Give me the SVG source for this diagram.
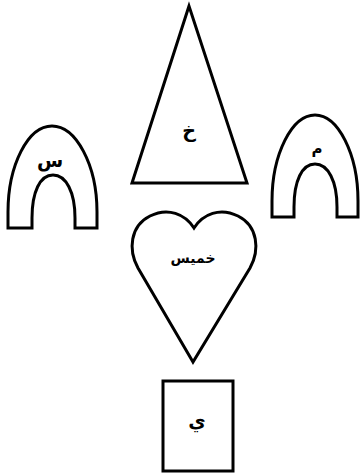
<svg xmlns="http://www.w3.org/2000/svg" width="360" height="475" viewBox="0 0 360 475">
<style>
.s{fill:#fff;stroke:#000;stroke-width:3;stroke-linejoin:miter}
.t{font-family:"DejaVu Sans","Noto Sans",sans-serif;font-weight:bold;font-size:19px;text-anchor:middle;fill:#000}
</style>
<rect width="360" height="475" fill="#fff"/>
<g id="triangle">
<polygon class="s" points="189,6 132,183 247,183"/>
<text class="t" x="189" y="137">خ</text>
</g>
<g id="arch-left">
<path class="s" d="M8,228 L8,212 C8,165 28,126 52,126 C76,126 97,165 97,212 L97,228 L75,228 L75,218 C75,192 66,175 53,175 C40,175 32,192 32,218 L32,228 Z"/>
<text class="t" x="50" y="167">س</text>
</g>
<g id="arch-right">
<path class="s" d="M272,217 L272,201 C272,154 292,115 315,115 C338,115 358,154 358,201 L358,217 L337,217 L337,207 C337,181 328,164 315,164 C302,164 294,181 294,207 L294,217 Z"/>
<text class="t" x="317" y="154" style="font-size:15px">م</text>
</g>
<g id="heart">
<path class="s" d="M193,362 L138,268 C128,250 130,226 150,216 C168,207 185,214 194,228 C203,214 220,207 238,216 C258,226 260,250 250,268 Z"/>
<text class="t" x="193" y="263" style="font-size:14px">خميس</text>
</g>
<g id="box">
<rect class="s" x="163" y="381" width="70" height="90"/>
<text class="t" x="197" y="427">ي</text>
</g>
<g id="connectors"></g>
</svg>
